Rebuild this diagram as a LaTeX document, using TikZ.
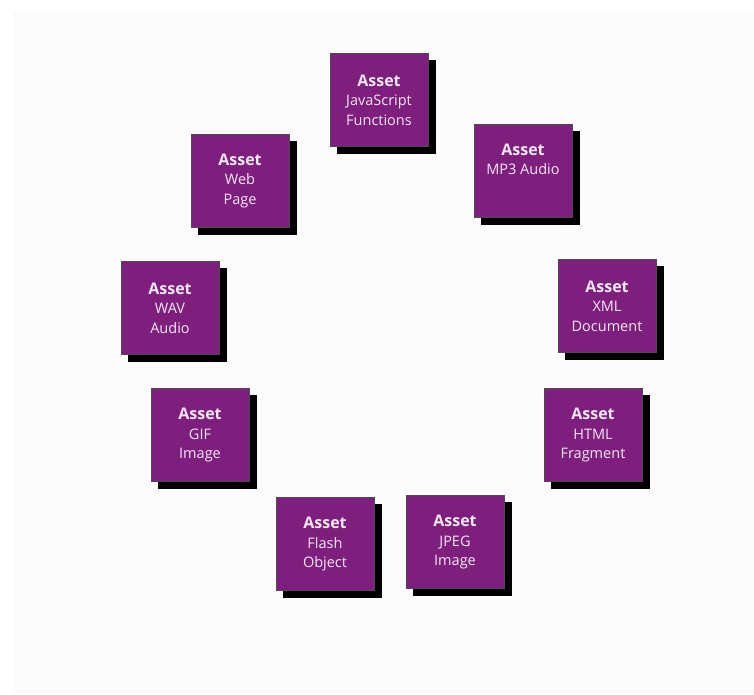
\documentclass[tikz,border=0pt]{standalone}
\usepackage{fontspec}
\setmainfont{Open Sans}
\usetikzlibrary{shadows}

\definecolor{assetpurple}{HTML}{7E1F7E}
\definecolor{assettext}{HTML}{F4E8F4}
\definecolor{paper}{HTML}{FBFBFB}

\tikzset{
  asset/.style={draw=black!70, fill=assetpurple, line width=0.6pt,
    minimum width=98pt, minimum height=93pt, inner sep=0pt,
    text=assettext, align=center,
    font=\fontsize{14.5}{19.5}\selectfont,
    copy shadow={shadow xshift=7pt, shadow yshift=-7pt, fill=black, draw=black}}
}
\newcommand{\assettext}[2]{{\bfseries\fontsize{16}{19.5}\selectfont Asset}\\#1\\#2}

\begin{document}
\begin{tikzpicture}[x=1pt,y=-1pt]
\useasboundingbox (0,0) rectangle (754,694);
\fill[paper] (13,12) rectangle (754,694);
%ring of assets
\node[asset] (js)    at (379,100) {\assettext{JavaScript}{Functions}};
\node[asset] (mp3)   at (523,171) {\assettext{MP3 Audio}{\phantom{Xy}}};
\node[asset] (xml)   at (607,306) {\assettext{XML}{Document}};
\node[asset] (html)  at (593,435) {\assettext{HTML}{Fragment}};
\node[asset] (jpeg)  at (455,542) {\assettext{JPEG}{Image}};
\node[asset] (flash) at (325,544) {\assettext{Flash}{Object}};
\node[asset] (gif)   at (200,435) {\assettext{GIF}{Image}};
\node[asset] (wav)   at (170,308) {\assettext{WAV}{Audio}};
\node[asset] (web)   at (240,181) {\assettext{Web}{Page}};
\end{tikzpicture}
\end{document}
